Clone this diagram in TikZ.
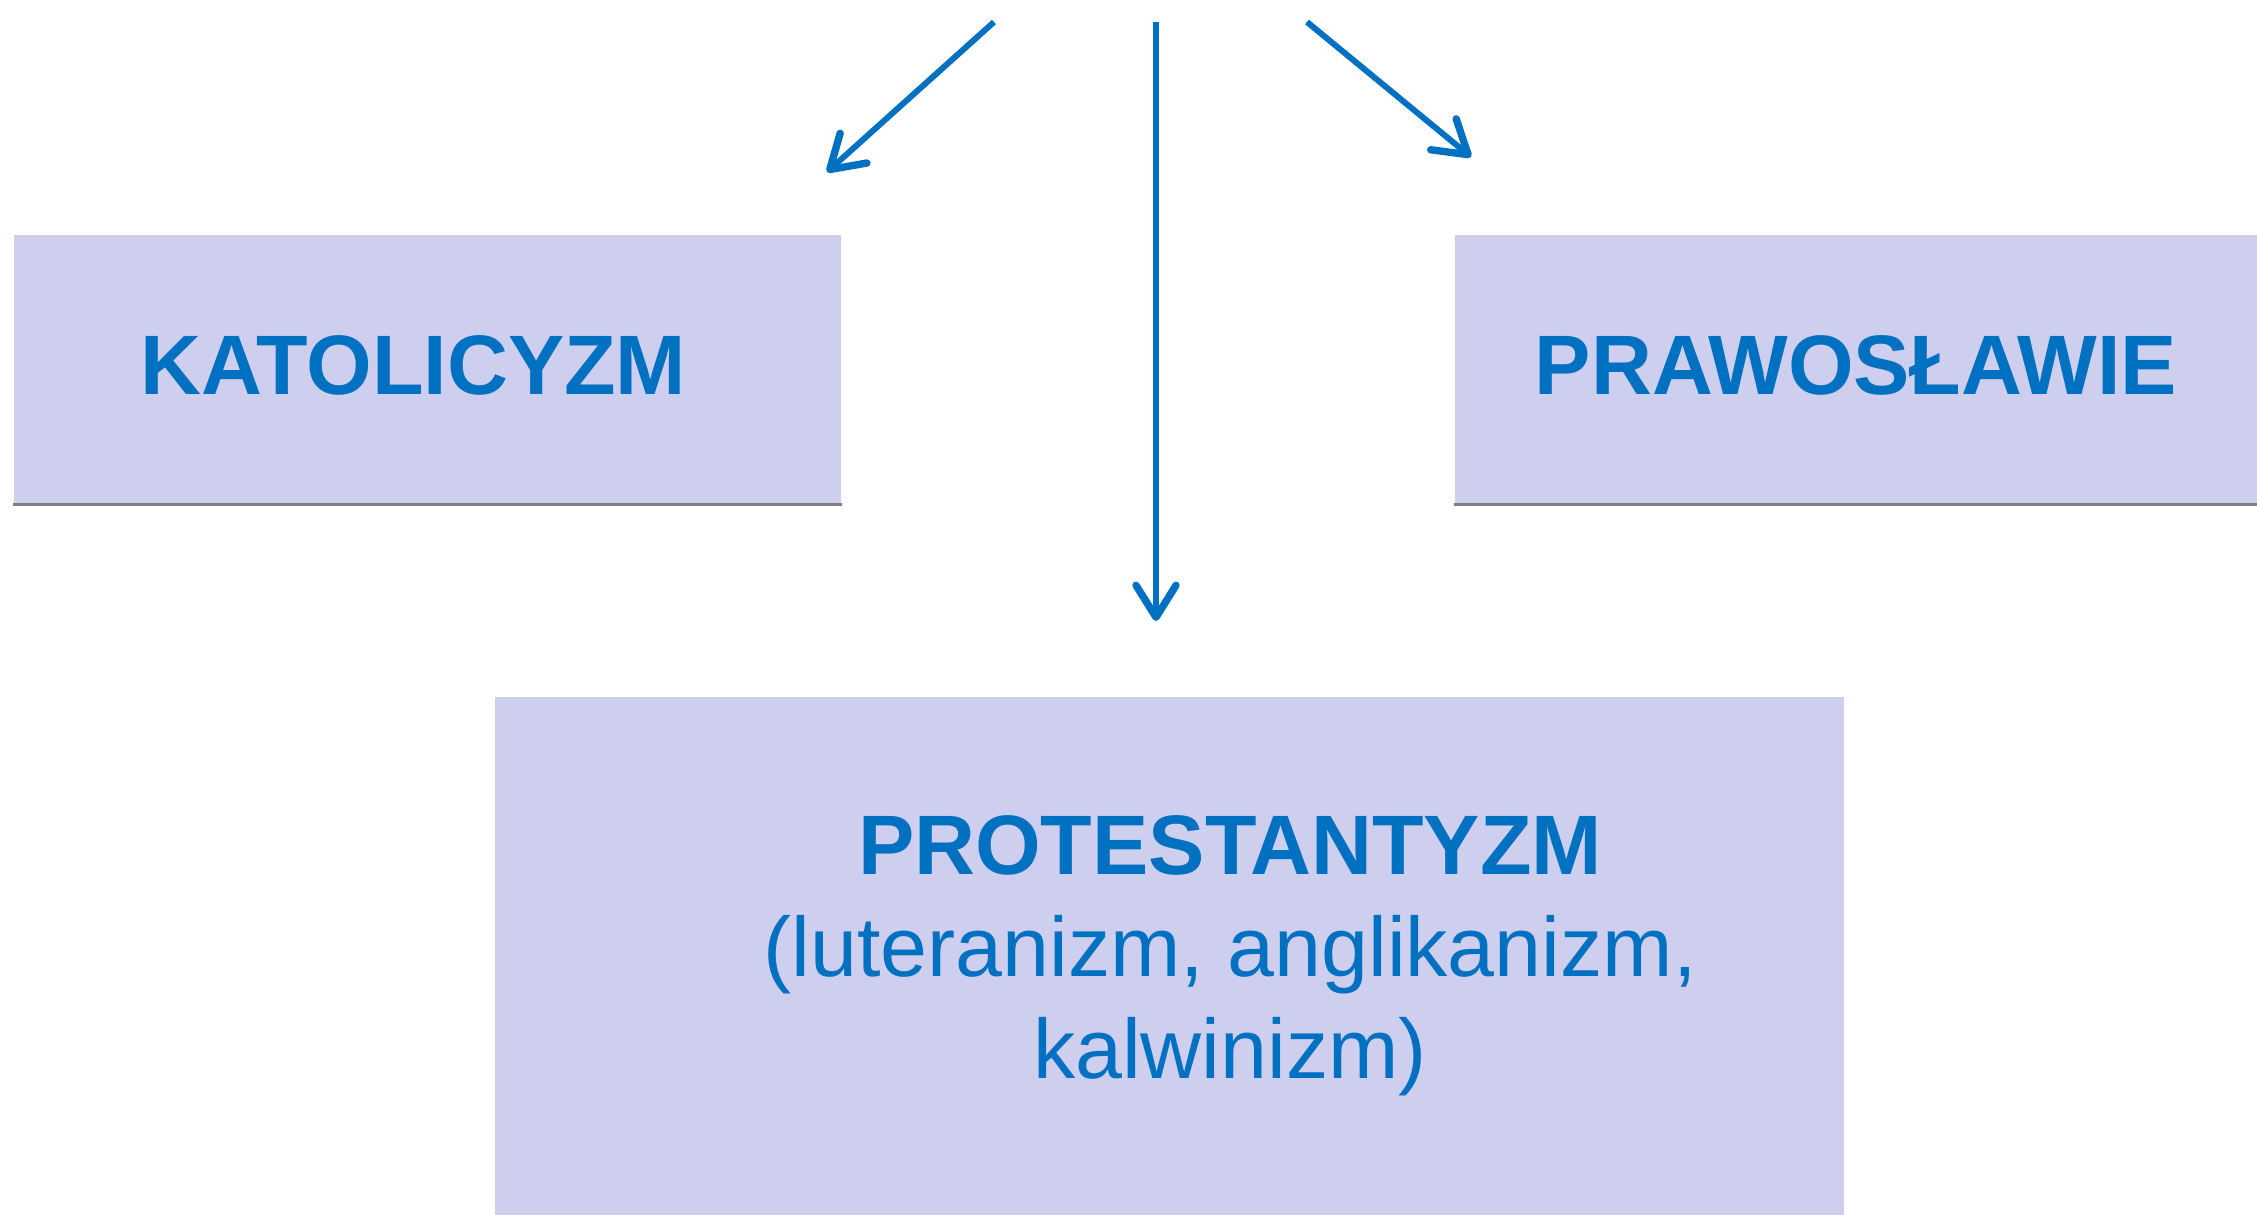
\documentclass[tikz,border=0pt]{standalone}
\usepackage{fontspec}
\setmainfont{Liberation Sans}
\usetikzlibrary{arrows.meta}

\definecolor{textblue}{RGB}{0,112,192}
\definecolor{boxfill}{RGB}{206,207,238}
\definecolor{rulegray}{RGB}{128,128,128}

\begin{document}
\begin{tikzpicture}[x=0.01cm, y=-0.01cm]
      \tikzstyle{church} = [
        rectangle,
        fill=boxfill,
        text=textblue,
        font=\fontsize{24}{29}\selectfont\bfseries,
        inner sep = 0pt
      ]

      \tikzstyle{branch} = [
        draw=textblue,
        line width=1.7pt,
        -{Straight Barb[length=3.2mm, width=4mm, round, line width=2.1pt]}
      ]

      \useasboundingbox (0,0) rectangle (2257,1215);

      \node[church, minimum width=8.27cm, minimum height=2.69cm]
        (katolicyzm) at (427.5,369.5) {\raisebox{0.09cm}{KATOLICYZM}\hspace*{0.28cm}};
      \node[church, minimum width=8.02cm, minimum height=2.69cm]
        (prawoslawie) at (1856,369.5) {\raisebox{0.09cm}{PRAWOSŁAWIE}};
      \node[church, minimum width=13.49cm, minimum height=5.18cm]
        (protestantyzm) at (1169.5,956) {};
      \node[text=textblue, align=center, font=\fontsize{24}{29}\selectfont]
        (odlamy) at (1230,956) {\textbf{PROTESTANTYZM}\\(luteranizm, anglikanizm,\\kalwinizm)};

      % dolne krawedzie
      \draw[rulegray, line width=0.85pt] (katolicyzm.south west) -- (katolicyzm.south east);
      \draw[rulegray, line width=0.85pt] (prawoslawie.south west) -- (prawoslawie.south east);

      \coordinate (start left) at (994,22);
      \coordinate (start mid) at (1156,22);
      \coordinate (start right) at (1307,22);
      \coordinate (tip left) at (827,172);
      \coordinate (tip mid) at (1156,621);
      \coordinate (tip right) at (1471,157);

      \draw[branch] (start left) -- (tip left);
      \draw[branch] (start mid) -- (tip mid);
      \draw[branch] (start right) -- (tip right);
    \end{tikzpicture}
\end{document}
